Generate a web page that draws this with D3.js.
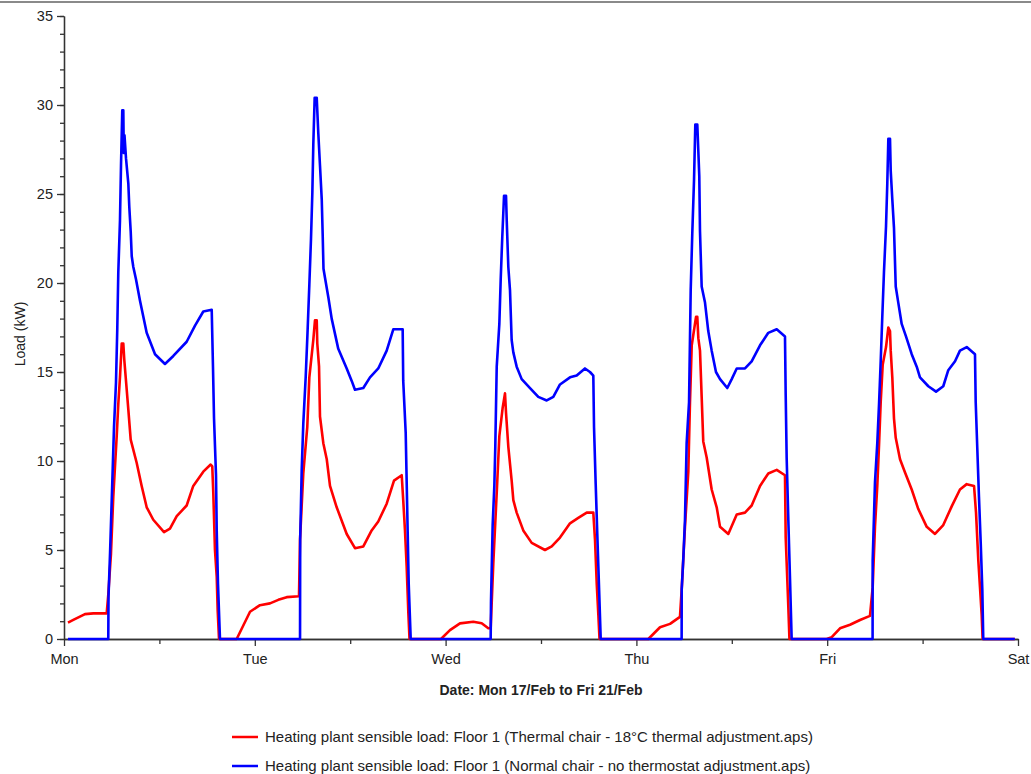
<!DOCTYPE html>
<html><head><meta charset="utf-8">
<script src="https://cdn.jsdelivr.net/npm/d3@7"></script>
<style>
body{margin:0;background:#fff}
svg{display:block;font-family:"Liberation Sans",Arial,sans-serif}
</style>
</head><body>
<svg id="c" width="1031" height="774"></svg>
<script>
// Tick labels / categories
const dayLabels = ["Mon","Tue","Wed","Thu","Fri","Sat"];
const dayHours = [0,24,48,72,96,120];
const noonHours = [12,36,60,84,108];
const yTicks = [0,5,10,15,20,25,30,35];

// Series 1 (red): Thermal chair - 18°C thermal adjustment  [hours from Mon 00:00, kW]
const redMon = [[0.5,0.92],[1.17,1.07],[2.64,1.4],[3.69,1.44],[5.37,1.44],[5.57,2.5],[5.91,4.8],[6.20,8.0],[6.63,11.4],[6.83,13.2],[7.04,14.7],[7.26,16.6],[7.46,16.6],[7.58,15.7],[8.09,12.9],[8.39,11.2],[9.14,9.9],[9.77,8.6],[10.40,7.4],[11.23,6.7],[12.58,6.0],[13.33,6.2],[14.18,6.9],[15.43,7.5],[16.26,8.6],[17.52,9.4],[18.45,9.8],[18.65,9.7],[18.78,8.2],[18.99,5.0],[19.21,3.5],[19.33,1.6],[19.50,0]];
const redTue = [[21.72,0],[23.40,1.53],[24.65,1.9],[25.91,2.0],[26.96,2.2],[28.01,2.35],[29.56,2.4],[29.69,5.6],[30.10,9.3],[30.60,11.9],[30.86,14.7],[31.36,16.8],[31.57,17.9],[31.79,17.9],[31.86,16.6],[32.08,15.3],[32.20,12.5],[32.62,11.0],[33.05,10.1],[33.46,8.6],[34.30,7.4],[35.56,5.9],[36.60,5.1],[37.65,5.2],[38.70,6.1],[39.53,6.6],[40.59,7.6],[41.51,8.9],[42.48,9.2],[42.67,7.8],[42.89,6.1],[43.10,4.1],[43.31,1.5],[43.46,0]];
const redWed = [[47.42,0],[48.55,0.5],[49.81,0.88],[51.48,0.97],[52.54,0.88],[53.37,0.6],[53.67,0.6],[54.00,4.25],[54.43,8.2],[54.76,11.4],[55.18,13.0],[55.47,13.8],[55.60,12.7],[55.89,10.8],[56.31,8.9],[56.52,7.8],[56.94,7.1],[57.77,6.1],[58.83,5.4],[60.50,5.0],[61.35,5.2],[62.39,5.7],[63.65,6.5],[64.69,6.8],[65.75,7.1],[66.58,7.1],[66.79,5.6],[67.01,3.1],[67.21,1.4],[67.36,0]];
const redThu = [[73.50,0],[74.97,0.66],[76.23,0.85],[77.48,1.24],[77.70,2.8],[78.11,6.3],[78.53,9.4],[78.74,13.3],[78.96,16.5],[79.50,18.1],[79.66,18.1],[79.79,16.9],[80.00,16.2],[80.21,13.6],[80.41,11.1],[80.84,10.2],[81.47,8.4],[82.10,7.4],[82.52,6.3],[83.56,5.9],[84.62,7.0],[85.66,7.1],[86.50,7.5],[87.55,8.6],[88.59,9.3],[89.65,9.5],[90.69,9.2],[90.78,5.7],[91.11,1.8],[91.25,0]];
const redFri = [[95.93,0],[96.57,0.1],[97.61,0.6],[98.87,0.8],[100.13,1.07],[101.38,1.3],[101.72,2.9],[102.01,6.3],[102.30,8.6],[102.52,10.9],[102.73,13.3],[102.98,15.4],[103.40,16.4],[103.69,17.5],[103.90,17.3],[103.99,16.2],[104.19,14.7],[104.40,12.4],[104.62,11.3],[105.16,10.1],[105.79,9.35],[106.63,8.4],[107.46,7.3],[108.52,6.3],[109.56,5.9],[110.60,6.4],[111.66,7.45],[112.70,8.4],[113.55,8.7],[114.47,8.6],[114.72,7.1],[115.01,4.4],[115.22,2.9],[115.43,1.35],[115.55,0],[119.6,0]];

// Series 2 (blue): Normal chair - no thermostat adjustment  [hours from Mon 00:00, kW]
const blueMon = [[0.5,0],[5.57,0],[5.60,2.4],[5.79,4.8],[6.13,9.6],[6.29,11.9],[6.54,14.4],[6.70,17.4],[6.83,20.6],[7.04,23.5],[7.17,26.6],[7.33,29.7],[7.46,29.7],[7.52,27.3],[7.61,28.3],[7.80,27.0],[8.09,25.6],[8.21,24.3],[8.39,22.9],[8.52,21.5],[8.72,20.9],[9.06,20.2],[9.56,19.0],[10.40,17.2],[11.45,16.0],[12.70,15.45],[13.75,15.9],[15.43,16.7],[16.48,17.6],[17.52,18.4],[18.58,18.5],[18.74,15.3],[18.87,12.4],[19.12,9.2],[19.21,6.1],[19.37,3.1],[19.62,0]];
const blueTue = [[29.69,0],[29.71,5.6],[29.90,9.5],[30.10,12.1],[30.40,14.7],[30.63,17.2],[30.86,19.9],[31.07,22.5],[31.24,25.1],[31.36,27.8],[31.53,30.4],[31.79,30.4],[31.99,28.4],[32.20,26.6],[32.42,24.7],[32.54,22.7],[32.64,20.8],[32.83,20.3],[33.25,19.2],[33.67,18.0],[34.50,16.3],[35.56,15.2],[36.19,14.5],[36.60,14.0],[37.65,14.1],[38.49,14.7],[39.53,15.2],[40.59,16.2],[41.42,17.4],[42.60,17.4],[42.67,14.5],[42.98,11.6],[43.23,6.0],[43.36,3.1],[43.61,0]];
const blueWed = [[53.67,0],[53.71,2.1],[53.92,6.4],[54.13,8.6],[54.25,10.8],[54.43,15.3],[54.76,17.7],[54.93,20.2],[55.13,22.6],[55.35,24.9],[55.60,24.9],[55.69,23.5],[55.89,20.9],[56.10,19.6],[56.31,16.8],[56.52,16.1],[56.94,15.3],[57.57,14.6],[58.62,14.1],[59.66,13.6],[60.72,13.4],[61.55,13.6],[62.39,14.3],[63.65,14.7],[64.49,14.8],[65.53,15.2],[66.16,15.0],[66.58,14.8],[66.67,11.9],[66.88,8.7],[67.08,5.9],[67.30,2.9],[67.51,0]];
const blueThu = [[77.69,0],[77.70,2.8],[77.90,4.5],[78.11,6.7],[78.32,11.0],[78.62,13.3],[78.83,19.6],[79.03,22.8],[79.25,25.8],[79.41,28.9],[79.66,28.9],[79.79,27.4],[79.91,26.0],[80.00,22.9],[80.21,19.8],[80.63,18.9],[81.04,17.3],[81.47,16.2],[82.01,15.0],[82.52,14.6],[83.43,14.1],[83.99,14.6],[84.62,15.2],[85.66,15.2],[86.50,15.6],[87.55,16.5],[88.59,17.2],[89.65,17.4],[90.69,17.0],[90.78,13.7],[90.90,10.2],[91.11,6.7],[91.32,3.4],[91.53,0]];
const blueFri = [[101.71,0],[101.72,4.4],[102.01,8.8],[102.30,11.0],[102.52,13.2],[102.73,15.6],[102.93,18.1],[103.14,20.6],[103.40,23.2],[103.56,25.6],[103.69,28.1],[103.90,28.1],[103.99,26.3],[104.19,24.7],[104.40,23.1],[104.62,19.8],[104.94,18.9],[105.37,17.7],[105.91,17.0],[106.63,16.0],[107.26,15.3],[107.67,14.7],[108.72,14.2],[109.69,13.9],[110.60,14.2],[111.23,15.1],[112.08,15.6],[112.70,16.2],[113.55,16.4],[114.59,16.0],[114.68,13.3],[114.88,10.7],[115.09,8.0],[115.31,5.4],[115.51,2.8],[115.63,0],[119.6,0]];

const series = [
  {name:"Heating plant sensible load: Floor 1 (Thermal chair - 18°C thermal adjustment.aps)", color:"#ff0000",
   data:[].concat(redMon,redTue,redWed,redThu,redFri)},
  {name:"Heating plant sensible load: Floor 1 (Normal chair - no thermostat adjustment.aps)", color:"#0000ff",
   data:[].concat(blueMon,blueTue,blueWed,blueThu,blueFri)}
];

const svg = d3.select("#c");
const W = 1031, H = 774;
const x = d3.scaleLinear().domain([0,120]).range([64,1018]);
const y = d3.scaleLinear().domain([0,35]).range([639,16]);
const axisColor = "#333";

// window frame line at top
svg.append("rect").attr("x",0).attr("y",1).attr("width",W).attr("height",2).attr("fill","#8a8a8a");

// y axis minor + major
const gyMinor = svg.append("g").attr("transform","translate(64,0)")
  .call(d3.axisLeft(y).tickValues(d3.range(0,36,1)).tickSize(4).tickSizeOuter(0).tickFormat(""));
const gy = svg.append("g").attr("transform","translate(64,0)")
  .call(d3.axisLeft(y).tickValues(yTicks).tickSize(7).tickSizeOuter(0).tickPadding(4));
// x axis minor + major
const gxMinor = svg.append("g").attr("transform","translate(0,639)")
  .call(d3.axisBottom(x).tickValues(noonHours).tickSize(5).tickSizeOuter(0).tickFormat(""));
const gx = svg.append("g").attr("transform","translate(0,639)")
  .call(d3.axisBottom(x).tickValues(dayHours).tickSize(7).tickSizeOuter(0).tickPadding(8)
    .tickFormat((d,i)=>dayLabels[i]));

[gyMinor,gy,gxMinor,gx].forEach(g=>{
  g.selectAll("path.domain").attr("stroke",axisColor).attr("stroke-width",1.3);
  g.selectAll(".tick line").attr("stroke",axisColor).attr("stroke-width",1.3);
  g.selectAll("text").attr("fill","#222").style("font-size","14.5px").style("font-family","'Liberation Sans',Arial,sans-serif");
});

// data lines
const line = d3.line().x(d=>x(d[0])).y(d=>y(d[1]));
svg.append("g").selectAll("path.series").data(series).join("path")
  .attr("class","series")
  .attr("d",d=>line(d.data))
  .attr("fill","none")
  .attr("stroke",d=>d.color)
  .attr("stroke-width",2.6)
  .attr("stroke-linejoin","round");

// axis titles
svg.append("text").attr("x",(x(0)+x(120))/2).attr("y",695)
  .attr("text-anchor","middle").style("font-size","14px").style("font-weight","bold").attr("fill","#222")
  .text("Date: Mon 17/Feb to Fri 21/Feb");
svg.append("text").attr("transform","translate(25,334) rotate(-90)")
  .attr("text-anchor","middle").style("font-size","14px").attr("fill","#222")
  .text("Load (kW)");

// legend
const legY = [737,766];
const leg = svg.append("g").selectAll("g").data(series).join("g")
  .attr("transform",(d,i)=>`translate(232,${legY[i]})`);
leg.append("line").attr("x1",0).attr("x2",26).attr("y1",0).attr("y2",0)
  .attr("stroke",d=>d.color).attr("stroke-width",2.5);
leg.append("text").attr("x",33).attr("y",0).attr("dy","0.35em")
  .style("font-size","15px").attr("fill","#222").text(d=>d.name);
</script>
</body></html>
